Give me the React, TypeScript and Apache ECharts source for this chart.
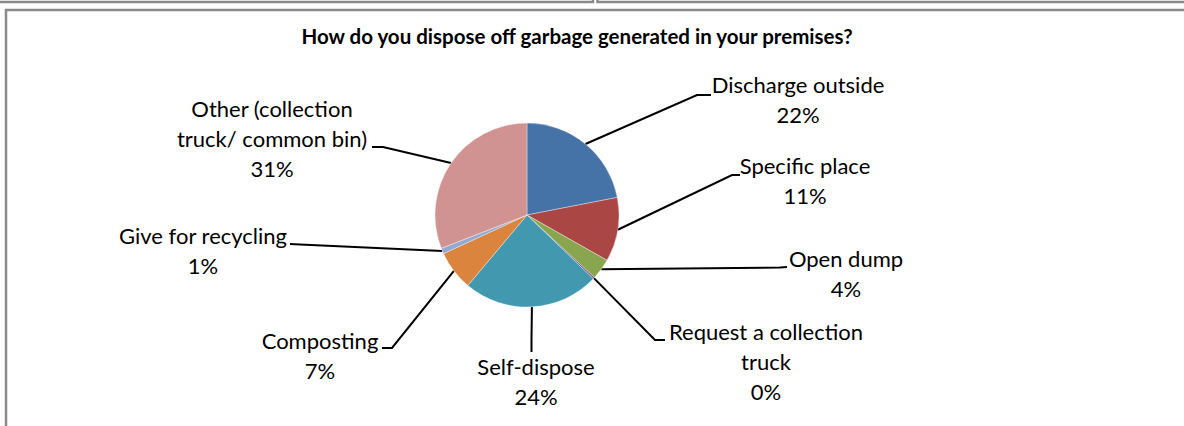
import React, { useEffect, useRef } from "react";
import * as echarts from "echarts";

const titleText = "How do you dispose off garbage generated in your premises?";
const categories = [
  "Discharge outside",
  "Specific place",
  "Open dump",
  "Request a collection\ntruck",
  "Self-dispose",
  "Composting",
  "Give for recycling",
  "Other (collection\ntruck/ common bin)",
];
const values = [22, 11.3, 3.7, 0.3, 24, 7, 1, 31];
const colors = ["#4572A7", "#AA4643", "#89A54E", "#71588F", "#4198AF", "#DB843D", "#93A9CF", "#D19392"];

// label placement: [centerX, topY, elbowX, elbowY, endX, endY]
const labelPlacement = [
  [798, 69.5, 697, 95, 711, 95],
  [805, 150.5, 732, 175, 740, 175],
  [846, 243.5, 780, 267.5, 787, 267],
  [766, 316.5, 655, 340, 665, 340],
  [536, 351.5, 531.5, 340, 531.5, 352],
  [320, 325.5, 392, 348, 382, 348],
  [203, 220.5, 300, 244.5, 290, 244],
  [272, 93.5, 383, 147, 372, 147],
];

const FONT = "Lato, 'Open Sans', sans-serif";

export default function App() {
  const ref = useRef<HTMLDivElement>(null);
  useEffect(() => {
    if (!ref.current) return;
    const chart = echarts.init(ref.current, undefined, { renderer: "svg" });
    const total = values.reduce((a, b) => a + b, 0);
    chart.setOption({
      animation: false,
      backgroundColor: "#ffffff",
      graphic: [
        {
          type: "polyline",
          shape: { points: [[-2, 2], [593, 2], [593, -3]] },
          style: { stroke: "#8a8a8a", lineWidth: 2.5, fill: null },
        },
        {
          type: "polyline",
          shape: { points: [[597.5, -3], [597.5, 2], [1190, 2]] },
          style: { stroke: "#8a8a8a", lineWidth: 2.5, fill: null },
        },
        {
          type: "rect",
          shape: { x: 6, y: 10, width: 1200, height: 500 },
          style: { stroke: "#8a8a8a", lineWidth: 2.5, fill: null },
        },
        {
          type: "text",
          x: 577,
          y: 36,
          style: {
            text: titleText,
            font: `bold 20.5px ${FONT}`,
            fill: "#000",
            textAlign: "center",
            textVerticalAlign: "middle",
          },
        },
      ],
      series: [
        {
          type: "pie",
          center: [527, 215],
          radius: 92,
          startAngle: 90,
          clockwise: true,
          avoidLabelOverlap: false,
          data: categories.map((name, i) => ({
            name,
            value: values[i],
            itemStyle: { color: colors[i] },
          })),
          itemStyle: { borderColor: "rgba(255,255,255,0.6)", borderWidth: 0.6 },
          label: {
            show: true,
            position: "outside",
            color: "#000",
            fontFamily: FONT,
            fontSize: 22,
            lineHeight: 30,
            align: "center",
            formatter: (p: any) => `${p.name}\n${Math.round((p.value / total) * 100)}%`,
          },
          labelLine: { show: true, lineStyle: { color: "#000", width: 2 } },
          labelLayout: (params: any) => {
            const i = params.dataIndex;
            const lp = labelPlacement[i];
            const start = params.labelLinePoints ? params.labelLinePoints[0] : [lp[2], lp[3]];
            return {
              x: lp[0],
              y: lp[1],
              align: "center",
              verticalAlign: "top",
              labelLinePoints: [start, [lp[2], lp[3]], [lp[4], lp[5]]],
            };
          },
          emphasis: { disabled: true },
        },
      ],
    });
    return () => chart.dispose();
  }, []);
  return (
    <div
      ref={ref}
      style={{ position: "absolute", left: 0, top: 0, width: 1184, height: 426 }}
    />
  );
}
